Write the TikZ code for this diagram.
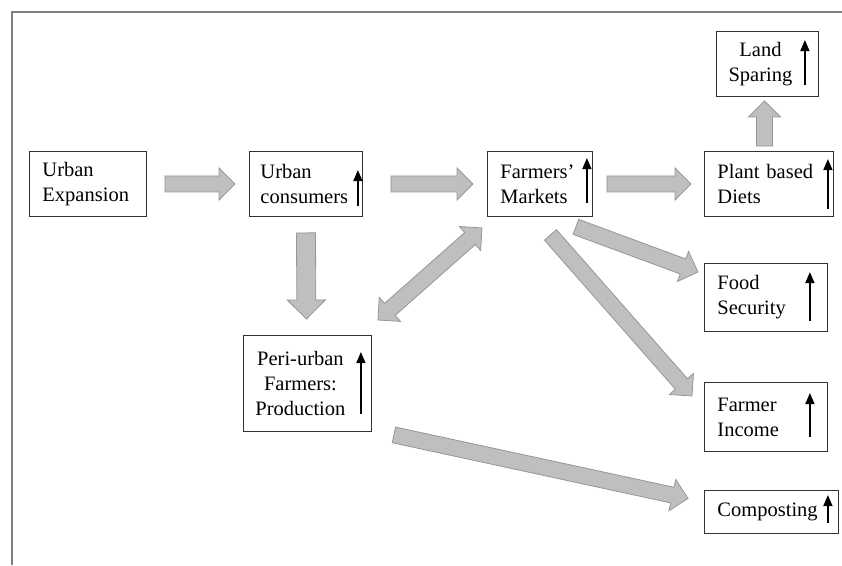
\documentclass[tikz,border=0pt]{standalone}
\usepackage{fontspec}
\setmainfont{Liberation Serif}
\usetikzlibrary{arrows.meta,calc}

\definecolor{arrowfill}{RGB}{191,191,191}
\definecolor{arrowline}{RGB}{150,150,150}

\begin{document}
\begin{tikzpicture}[
    x=1pt, y=-1pt,
    box/.style={
        rectangle, draw=black!80, line width=0.9pt, anchor=north west,
        align=left, inner xsep=13pt, inner ysep=2pt,
        font=\fontsize{20.5pt}{25pt}\selectfont
    },
    fat/.style={
        draw=arrowline, fill=arrowfill, line width=0.8pt,
        to path={let \p1=(\tikztostart), \p2=(\tikztotarget),
            \n1={atan2(\y2-\y1,\x2-\x1)},
            \n3={veclen(\x2-\x1,\y2-\y1)-2*#1}
          in ++(\n1+90:#1pt) -- ++(\n1:\n3) -- ++(\n1+90:#1pt)
            -- (\tikztotarget) -- ++(\n1+225:2.828*#1pt)
            -- ++(\n1+90:#1pt) -- ++(\n1+180:\n3) -- cycle}
    },
    fat/.default=8,
    fatboth/.style={
        draw=arrowline, fill=arrowfill, line width=0.8pt,
        to path={let \p1=(\tikztostart), \p2=(\tikztotarget),
            \n1={atan2(\y2-\y1,\x2-\x1)},
            \n3={veclen(\x2-\x1,\y2-\y1)-4*#1}
          in -- ++(\n1+45:2.828*#1pt) -- ++(\n1-90:#1pt) -- ++(\n1:\n3)
            -- ++(\n1+90:#1pt) -- (\tikztotarget) -- ++(\n1+225:2.828*#1pt)
            -- ++(\n1+90:#1pt) -- ++(\n1+180:\n3) -- ++(\n1-90:#1pt) -- cycle}
    },
    fatboth/.default=8,
    riser/.style={-{Triangle[length=11pt,width=9pt]}, line width=1.4pt, black},
    frame/.style={draw=black!50, line width=1.2pt}
]
\useasboundingbox (0,0) rectangle (842,565);
\draw[frame] (12,565) -- (12,12) -- (842,12);

\node[box, text width=91pt, minimum height=65pt] (ue) at (29,151) {Urban\\Expansion};
\node[box, inner xsep=11pt, text width=91pt, minimum height=65pt] (uc) at (249,151) {Urban\\consumers};
\node[box, text width=79pt, minimum height=65pt] (fm) at (487,151) {Farmers'\\Markets};
\node[box, text width=103pt, minimum height=65pt] (pd) at (704,151) {Plant based\\Diets};
\node[box, align=center, inner xsep=8pt, text width=86pt, minimum height=65pt] (ls) at (716,31) {Land\rule{14pt}{0pt}\\Sparing\rule{14pt}{0pt}};
\node[box, align=center, inner xsep=8pt, text width=112pt, minimum height=96pt] (pf) at (243,335) {Peri-urban\rule{14pt}{0pt}\\Farmers:\rule{14pt}{0pt}\\Production\rule{14pt}{0pt}};
\node[box, text width=97pt, minimum height=68pt] (fs) at (704,263) {Food\\Security};
\node[box, text width=97pt, minimum height=69pt] (fi) at (704,382) {Farmer\\Income};
\node[box, text width=108pt, minimum height=43pt] (co) at (704,490) {Composting};

% gray block arrows
\draw[fat] ($(ue.east)+(18,0)$) to ($(uc.west)+(-14,0)$);
\draw[fat] ($(uc.east)+(28,0)$) to ($(fm.west)+(-14,0)$);
\draw[fat] ($(fm.east)+(14,0)$) to ($(pd.west)+(-13,0)$);
\draw[fat] ($(pd.north)+(-4.5,-5)$) to ($(ls.south)+(-3,4)$);
\draw[fat=9.5] ($(uc.south)+(0,16)$) to ($(pf.north)+(-1,-16)$);
\draw[fatboth] ($(pf.north east)+(6,-15)$) to ($(fm.south west)+(-5,11)$);
\draw[fat] ($(fm.south east)+(-17,10)$) to ($(fs.north west)+(-6,9)$);
\draw[fat] ($(fm.south)+(10.5,18)$) to ($(fi.north west)+(-12,14)$);
\draw[fat] ($(pf.south east)+(22,3)$) to ($(co.west)+(-16,-13.5)$);

% small rising arrows inside the boxes
\foreach \n/\dx/\up/\dn in {uc/5/19/11, fm/6/7/14, pd/6/8/8, ls/14/9/12,
                            pf/11/17/18, fs/18/9/11, fi/18/11/15, co/11/5/11}
    \draw[riser] ([shift={(-\dx,-\dn)}]\n.south east) -- ([shift={(-\dx,\up)}]\n.north east);
\end{tikzpicture}
\end{document}
